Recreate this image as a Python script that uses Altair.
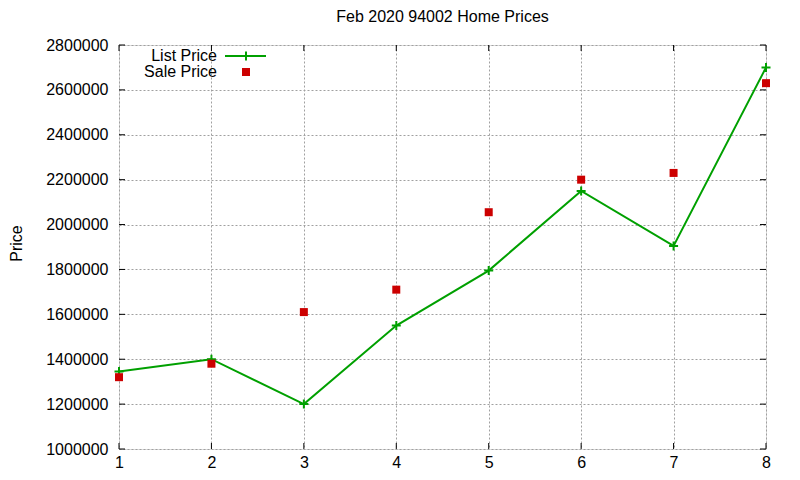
import altair as alt
import pandas as pd

x_vals = [1, 2, 3, 4, 5, 6, 7, 8]
list_price = [1345000, 1400000, 1200000, 1550000, 1795000, 2150000, 1905000, 2700000]
sale_price = [1320000, 1380000, 1610000, 1710000, 2055000, 2200000, 2230000, 2630000]
y_ticks = [1000000, 1200000, 1400000, 1600000, 1800000, 2000000, 2200000, 2400000, 2600000, 2800000]
legend_labels = ["List Price", "Sale Price"]

GREEN = "#00a000"
RED = "#cc0000"
FONT = "Liberation Sans"
W, H = 647, 404

line_df = pd.DataFrame({"x": x_vals, "price": list_price})
sale_df = pd.DataFrame({"x": x_vals, "price": sale_price})
ytick_df = pd.DataFrame({"price": y_ticks})
xtick_df = pd.DataFrame({"x": x_vals})

xscale = alt.Scale(domain=[1, 8], nice=False, zero=False)
yscale = alt.Scale(domain=[1000000, 2800000], nice=False, zero=False)

xaxis = alt.Axis(values=x_vals, format="d", labelFont=FONT, labelFontSize=16, labelColor="black",
                 labelPadding=5, ticks=False, domain=False, grid=True, gridDash=[2, 2],
                 gridColor="#a0a0a0", gridOpacity=1, labelFlush=False, title="")
yaxis = alt.Axis(values=y_ticks, format="d", labelFont=FONT, labelFontSize=16, labelColor="black",
                 labelPadding=11, ticks=False, domain=False, grid=True, gridDash=[2, 2],
                 gridColor="#a0a0a0", gridOpacity=1, labelFlush=False,
                 title="Price", titleFont=FONT, titleFontSize=16, titleFontWeight="normal",
                 titleColor="black", titleAngle=270, titleX=-103, titleY=198,
                 titleAlign="center", titleBaseline="middle")

X = alt.X("x:Q", scale=xscale, axis=xaxis, title="")
Y = alt.Y("price:Q", scale=yscale, axis=yaxis, title="Price")

line = alt.Chart(line_df).mark_line(color=GREEN, strokeWidth=2).encode(x=X, y=Y)
plus = alt.Chart(line_df).mark_point(
    shape="M -1 0 L 1 0 M 0 -1 L 0 1", filled=False, color=GREEN, strokeWidth=2, size=81, opacity=1
).encode(x=X, y=Y)
sale = alt.Chart(sale_df).mark_square(color=RED, size=64, opacity=1).encode(x=X, y=Y)

# inward ticks on all four sides
ytick_l = alt.Chart(ytick_df).mark_rule(color="black").encode(y=Y, x=alt.value(0), x2=alt.value(6))
ytick_r = alt.Chart(ytick_df).mark_rule(color="black").encode(y=Y, x=alt.value(W), x2=alt.value(W - 6))
xtick_b = alt.Chart(xtick_df).mark_rule(color="black").encode(x=X, y=alt.value(H), y2=alt.value(H - 6))
xtick_t = alt.Chart(xtick_df).mark_rule(color="black").encode(x=X, y=alt.value(0), y2=alt.value(6))

# key (gnuplot style: label left, sample right)
leg1_df = pd.DataFrame({"label": [legend_labels[0]]})
leg2_df = pd.DataFrame({"label": [legend_labels[1]]})
leg_text1 = alt.Chart(leg1_df).mark_text(align="right", baseline="middle", font=FONT, fontSize=16,
                                          color="black").encode(text="label:N", x=alt.value(98), y=alt.value(11))
leg_text2 = alt.Chart(leg2_df).mark_text(align="right", baseline="middle", font=FONT, fontSize=16,
                                          color="black").encode(text="label:N", x=alt.value(98), y=alt.value(27))
leg_line = alt.Chart(leg1_df).mark_rule(color=GREEN, strokeWidth=2).encode(
    x=alt.value(106), x2=alt.value(147), y=alt.value(11))
leg_plus = alt.Chart(leg1_df).mark_point(
    shape="M -1 0 L 1 0 M 0 -1 L 0 1", filled=False, color=GREEN, strokeWidth=2, size=81, opacity=1
).encode(x=alt.value(127), y=alt.value(11))
leg_sq = alt.Chart(leg2_df).mark_square(color=RED, size=64, opacity=1).encode(
    x=alt.value(127), y=alt.value(27))

chart = alt.layer(
    line, plus, sale, ytick_l, ytick_r, xtick_b, xtick_t,
    leg_text1, leg_text2, leg_line, leg_plus, leg_sq
).properties(
    width=W, height=H,
    title=alt.Title("Feb 2020 94002 Home Prices", font=FONT, fontSize=16, fontWeight="normal",
                    color="black", offset=12, anchor="middle"),
    padding={"left": 111, "top": 37, "right": 26, "bottom": 23},
    autosize=alt.AutoSizeParams(type="none"),
).configure_view(stroke="black", strokeWidth=1).configure(background="white")

chart.save("out.html", embed_options={"renderer": "svg", "actions": False})
